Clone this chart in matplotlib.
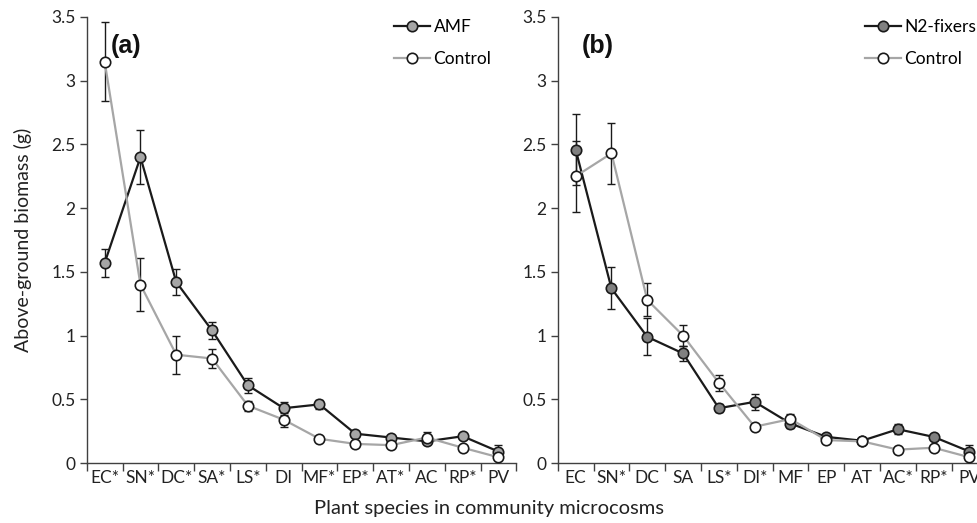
"""
Above-ground biomass per plant species, AMF vs control (a) and N2-fixers vs control (b).
Values read off the published figure.
"""
import matplotlib
matplotlib.use("Agg")
import matplotlib.pyplot as plt
import numpy as np

plt.rcParams.update({
    "font.family": ["Lato", "DejaVu Sans"],
    "font.size": 12.5,
    "axes.linewidth": 1.0,
    "axes.edgecolor": "#404040",
    "xtick.color": "#404040",
    "ytick.color": "#404040",
    "xtick.labelcolor": "#222222",
    "ytick.labelcolor": "#222222",
    "xtick.labelsize": 12.5,
    "ytick.labelsize": 12.5,
})

# ── Data ──────────────────────────────────────────────────────────────────────
species_a = ["EC*", "SN*", "DC*", "SA*", "LS*", "DI", "MF*", "EP*", "AT*", "AC", "RP*", "PV"]
amf       = [1.57, 2.40, 1.42, 1.04, 0.61, 0.43, 0.46, 0.23, 0.20, 0.17, 0.21, 0.09]
amf_err   = [0.11, 0.21, 0.10, 0.07, 0.06, 0.05, 0.035, 0.02, 0.02, 0.02, 0.02, 0.05]
ctrl_a    = [3.15, 1.40, 0.85, 0.82, 0.45, 0.34, 0.19, 0.15, 0.14, 0.20, 0.12, 0.045]
ctrl_a_err = [0.31, 0.205, 0.15, 0.075, 0.04, 0.055, 0.015, 0.015, 0.015, 0.04, 0.015, 0.01]

species_b = ["EC", "SN*", "DC", "SA", "LS*", "DI*", "MF", "EP", "AT", "AC*", "RP*", "PV"]
n2fix     = [2.46, 1.37, 0.99, 0.86, 0.43, 0.48, 0.31, 0.205, 0.175, 0.265, 0.205, 0.09]
n2fix_err = [0.28, 0.165, 0.145, 0.06, 0.03, 0.065, 0.035, 0.015, 0.015, 0.04, 0.02, 0.05]
ctrl_b    = [2.25, 2.43, 1.28, 1.00, 0.63, 0.285, 0.345, 0.18, 0.17, 0.105, 0.12, 0.045]
ctrl_b_err = [0.28, 0.24, 0.13, 0.08, 0.063, 0.015, 0.04, 0.015, 0.01, 0.015, 0.015, 0.01]

LINE_DARK = "#1a1a1a"
LINE_GREY = "#a6a6a6"


def panel(ax, cats, trt, trt_err, ctl, ctl_err, trt_label, trt_fill, tag):
    x = np.arange(len(cats)) + 0.5
    ax.errorbar(x, trt, yerr=trt_err, fmt="none", ecolor=LINE_DARK,
                elinewidth=1.0, capsize=3, capthick=1.0, zorder=2)
    ax.errorbar(x, ctl, yerr=ctl_err, fmt="none", ecolor=LINE_DARK,
                elinewidth=1.0, capsize=3, capthick=1.0, zorder=2)
    ax.plot(x, trt, "-o", color=LINE_DARK, lw=1.6, ms=7.5, mfc=trt_fill,
            mec=LINE_DARK, mew=1.2, label=trt_label, zorder=3, clip_on=False)
    ax.plot(x, ctl, "-o", color=LINE_GREY, lw=1.6, ms=7.5, mfc="white",
            mec=LINE_DARK, mew=1.2, label="Control", zorder=4, clip_on=False)

    ax.set_xlim(0, len(cats))
    ax.set_ylim(0, 3.5)
    ax.set_yticks(np.arange(0, 3.51, 0.5))
    ax.set_yticklabels(["0", "0.5", "1", "1.5", "2", "2.5", "3", "3.5"])
    ax.set_xticks(np.arange(len(cats) + 1))
    ax.set_xticklabels([])
    ax.set_xticks(x, minor=True)
    ax.set_xticklabels(cats, minor=True)
    ax.tick_params(axis="x", which="major", direction="out", length=6, width=1.0)
    ax.tick_params(axis="x", which="minor", length=0, pad=5)
    ax.tick_params(axis="y", direction="out", length=5, width=1.0, pad=3)
    for s in ("top", "right"):
        ax.spines[s].set_visible(False)

    ax.legend(loc="upper left", bbox_to_anchor=(0.70, 1.01), frameon=False,
              handlelength=2.05, handletextpad=0.2, labelspacing=0.9,
              fontsize=12.5, borderaxespad=0)
    ax.text(0.055, 0.935, tag, transform=ax.transAxes, fontsize=18,
            fontweight="bold", ha="left", va="center", color="#111111",
            family=["Liberation Sans", "DejaVu Sans"])


fig = plt.figure(figsize=(9.78, 5.23), dpi=100)
ax_a = fig.add_axes([0.0887, 0.1147, 0.4393, 0.8528])
ax_b = fig.add_axes([0.5703, 0.1147, 0.4393, 0.8528])

panel(ax_a, species_a, amf, amf_err, ctrl_a, ctrl_a_err, "AMF", "#a6a6a6", "(a)")
panel(ax_b, species_b, n2fix, n2fix_err, ctrl_b, ctrl_b_err, "N2-fixers", "#808080", "(b)")

ax_a.set_ylabel("Above-ground biomass (g)", fontsize=14, labelpad=14)
ax_a.yaxis.label.set_color("#222222")
fig.text(0.5, 0.028, "Plant species in community microcosms", fontsize=14.5,
         ha="center", va="center", color="#222222")

fig.savefig("out.png", dpi=100)
